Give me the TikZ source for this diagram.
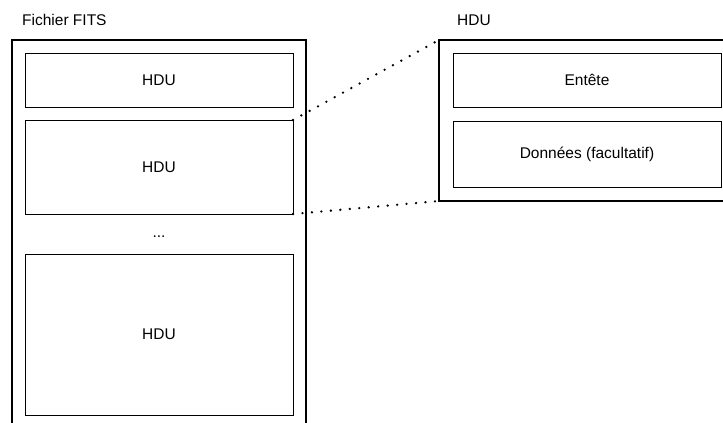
\documentclass[tikz,border=0pt]{standalone}
\usepackage{fontspec}
\setmainfont{Liberation Sans}
\usepackage{tikz}
\usetikzlibrary{positioning,calc}
\tikzset{
    outerbox/.style={draw, line width=1.3pt, inner sep=0pt, outer sep=0pt},
    unitbox/.style={draw, line width=1pt, inner sep=0pt, outer sep=0pt, minimum width=268pt},
    zoomline/.style={line width=2.6pt, line cap=round, dash pattern=on 0pt off 9.5pt},
    caption/.style={anchor=west, inner sep=0pt}
}

\begin{document}
\begin{tikzpicture}[x=1pt, y=-1pt, font=\fontsize{15.5}{18}\selectfont]
    \clip (0,0) rectangle (723,423); % page size of the reference

    \node[caption] (filelabel) at (22,20) {Fichier FITS}; % left title
    \node[caption] (hdulabel) at (457,20) {HDU}; % right title

    \node[outerbox, minimum width=294pt, minimum height=400pt] (file) at (159,240) {}; % FITS file, open at the bottom
    \node[unitbox, minimum height=54pt] (hdu1) at (159,80) {HDU};
    \node[unitbox, minimum height=94pt] (hdu2) at (159,167) {HDU};
    \node[inner sep=0pt] (dots) at (159,237) {...};
    \node[unitbox, minimum height=161pt] (hdu3) at (159,334.5) {HDU};

    \node[outerbox, minimum width=294pt, minimum height=161pt] (detail) at (586,120.5) {}; % one HDU in detail
    \node[unitbox, minimum height=54pt] (header) at (587,80) {Entête};
    \node[unitbox, minimum height=66pt] (data) at (587,154) {Données (facultatif)};

    \draw[zoomline] (hdu2.north east) -- (detail.north west);
    \draw[zoomline] (hdu2.south east) -- (detail.south west);
\end{tikzpicture}
\end{document}
